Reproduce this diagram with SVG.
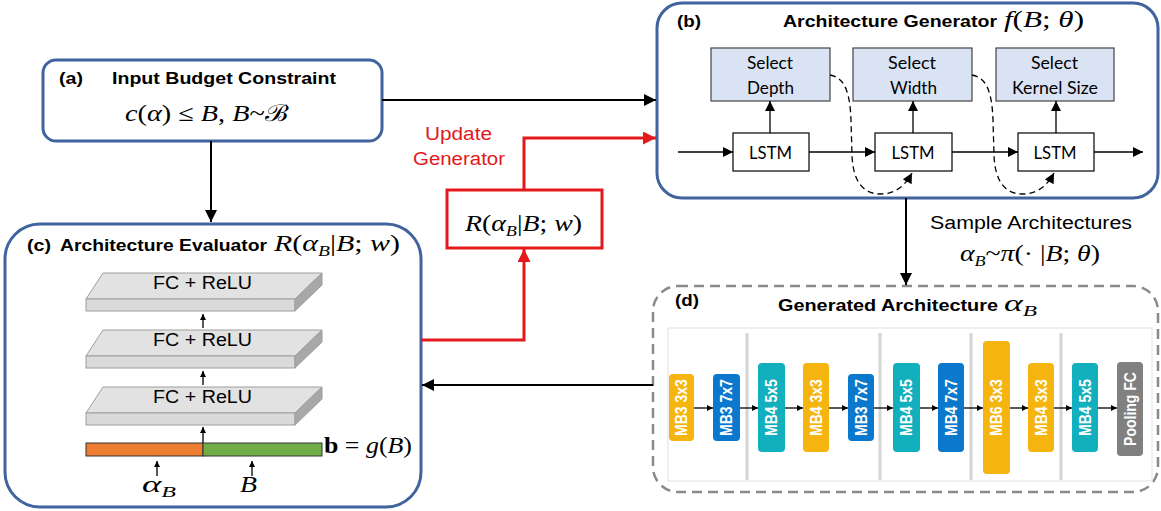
<svg xmlns="http://www.w3.org/2000/svg" width="1161" height="511" viewBox="0 0 1161 511">
<style>
.box{fill:#fff;stroke:#41639E;stroke-width:3}
.ttl{font-family:"Liberation Sans",Arial,sans-serif;font-weight:bold;font-size:17px;fill:#000}
.lbl{font-family:"Liberation Sans",Arial,sans-serif;font-size:18px;fill:#000}
.cal{font-family:Lato,"Open Sans",sans-serif;font-size:17px;fill:#000}
.math{font-family:"Liberation Serif","DejaVu Serif",serif;font-size:23px;fill:#000}
.i{font-style:italic}
.sub{font-size:15px;font-style:italic}
.sel{fill:#DAE3F3;stroke:#444;stroke-width:1.2}
.lstm{fill:#fff;stroke:#000;stroke-width:1.2}
.blk{font-family:"Liberation Sans",Arial,sans-serif;font-weight:bold;font-size:14px;fill:#fff}
.sep{stroke:#D4D4D4;stroke-width:3}
.top{fill:#E2E2E2;stroke:#9E9E9E;stroke-width:1}
.front{fill:#DADADA;stroke:#9E9E9E;stroke-width:1}
.side{fill:#A8A8A8;stroke:#9E9E9E;stroke-width:1}
.c-yel{fill:#F6B40E}.c-blu{fill:#0A78CC}.c-tea{fill:#12AFBE}.c-gry{fill:#808080}
.ln{stroke:#000;stroke-width:2;fill:none}
.thin{stroke:#000;stroke-width:1.3;fill:none}
.red{stroke:#E3191C;stroke-width:3;fill:none}
</style>
<defs>
<marker id="ahL" viewBox="0 0 10 10" refX="10" refY="5" markerWidth="13" markerHeight="12" markerUnits="userSpaceOnUse" orient="auto"><path d="M0,0 L10,5 L0,10 z" fill="#000"/></marker>
<marker id="ahR" viewBox="0 0 10 10" refX="10" refY="5" markerWidth="14" markerHeight="13" markerUnits="userSpaceOnUse" orient="auto"><path d="M0,0 L10,5 L0,10 z" fill="#E3191C"/></marker>
<marker id="ahM" viewBox="0 0 10 10" refX="10" refY="5" markerWidth="11" markerHeight="10" markerUnits="userSpaceOnUse" orient="auto"><path d="M0,0 L10,5 L0,10 z" fill="#000"/></marker>
<marker id="ahS" viewBox="0 0 10 10" refX="10" refY="5" markerWidth="6" markerHeight="6" markerUnits="userSpaceOnUse" orient="auto"><path d="M0,0 L10,5 L0,10 z" fill="#000"/></marker>
<g id="slab">
<polygon class="top" points="103,273 322,273 295,299 86,299"/>
<rect class="front" x="86" y="299" width="209" height="12"/>
<polygon class="side" points="295,299 322,273 322,285 295,311"/>
<text class="lbl" x="202.5" y="289" text-anchor="middle" font-size="17" textLength="99" lengthAdjust="spacingAndGlyphs">FC + ReLU</text>
</g>
</defs>

<!-- (a) -->
<g id="nodeA">
<rect class="box" x="43" y="60" width="339" height="81" rx="13"/>
<text class="ttl" x="59" y="84" textLength="24" lengthAdjust="spacingAndGlyphs">(a)</text>
<text class="ttl" x="112" y="84" textLength="224" lengthAdjust="spacingAndGlyphs">Input Budget Constraint</text>
<text class="math" x="125" y="121" textLength="163" lengthAdjust="spacingAndGlyphs"><tspan class="i">c</tspan>(<tspan class="i">α</tspan>) ≤ <tspan class="i">B</tspan>, <tspan class="i">B</tspan>~ℬ</text>
</g>

<!-- (b) -->
<g id="nodeB">
<rect class="box" x="657" y="3" width="501" height="195" rx="25"/>
<text class="ttl" x="677" y="27" textLength="24" lengthAdjust="spacingAndGlyphs">(b)</text>
<text class="ttl" x="783" y="27" textLength="214" lengthAdjust="spacingAndGlyphs">Architecture Generator</text>
<text class="math" x="1004" y="27" textLength="80" lengthAdjust="spacingAndGlyphs"><tspan class="i">f</tspan>(<tspan class="i">B</tspan>; <tspan class="i">θ</tspan>)</text>
<g id="selDepth"><rect class="sel" x="711" y="48" width="119" height="53"/>
<text class="cal" x="770" y="69" text-anchor="middle" textLength="46" lengthAdjust="spacingAndGlyphs">Select</text>
<text class="cal" x="770.5" y="94" text-anchor="middle" textLength="47" lengthAdjust="spacingAndGlyphs">Depth</text></g>
<g id="selWidth"><rect class="sel" x="853" y="48" width="119" height="53"/>
<text class="cal" x="912" y="69" text-anchor="middle" textLength="48" lengthAdjust="spacingAndGlyphs">Select</text>
<text class="cal" x="913.5" y="94" text-anchor="middle" textLength="47" lengthAdjust="spacingAndGlyphs">Width</text></g>
<g id="selKernel"><rect class="sel" x="996" y="48" width="118" height="53"/>
<text class="cal" x="1054.5" y="69" text-anchor="middle" textLength="47" lengthAdjust="spacingAndGlyphs">Select</text>
<text class="cal" x="1055" y="94" text-anchor="middle" textLength="86" lengthAdjust="spacingAndGlyphs">Kernel Size</text></g>
<g id="lstm1"><rect class="lstm" x="733" y="133" width="76" height="38"/>
<text class="cal" x="770.5" y="159" text-anchor="middle" textLength="43" lengthAdjust="spacingAndGlyphs">LSTM</text></g>
<g id="lstm2"><rect class="lstm" x="875" y="133" width="77" height="38"/>
<text class="cal" x="913" y="159" text-anchor="middle" textLength="43" lengthAdjust="spacingAndGlyphs">LSTM</text></g>
<g id="lstm3"><rect class="lstm" x="1018" y="133" width="76" height="38"/>
<text class="cal" x="1055" y="159" text-anchor="middle" textLength="43" lengthAdjust="spacingAndGlyphs">LSTM</text></g>
</g>

<!-- (c) -->
<g id="nodeC">
<rect class="box" x="5" y="224" width="416" height="283" rx="35"/>
<text class="ttl" x="27" y="251" textLength="24" lengthAdjust="spacingAndGlyphs">(c)</text>
<text class="ttl" x="60" y="251" textLength="207" lengthAdjust="spacingAndGlyphs">Architecture Evaluator</text>
<text class="math" x="274" y="251" textLength="126" lengthAdjust="spacingAndGlyphs"><tspan class="i">R</tspan>(<tspan class="i">α</tspan><tspan class="sub" dy="5">B</tspan><tspan dy="-5">|</tspan><tspan class="i">B</tspan>; <tspan class="i">w</tspan>)</text>
<use href="#slab"/>
<use href="#slab" transform="translate(0,57)"/>
<use href="#slab" transform="translate(0,114)"/>
<rect x="86" y="443" width="117" height="13" fill="#ED7D31" stroke="#333" stroke-width="1"/>
<rect x="203" y="443" width="119" height="13" fill="#70AD47" stroke="#333" stroke-width="1"/>
<text class="math" x="324" y="453" font-size="21" textLength="88" lengthAdjust="spacingAndGlyphs"><tspan font-weight="bold">b</tspan> = <tspan class="i">g</tspan>(<tspan class="i">B</tspan>)</text>
<text class="math" x="142" y="492" font-size="28" textLength="34" lengthAdjust="spacingAndGlyphs"><tspan class="i">α</tspan><tspan class="sub" font-size="17" dy="5">B</tspan></text>
<text class="math i" x="240" y="492" font-size="24" textLength="17" lengthAdjust="spacingAndGlyphs">B</text>
</g>

<!-- red reward box -->
<g id="nodeR">
<rect x="447" y="190" width="155" height="58" fill="#fff" stroke="#E3191C" stroke-width="3"/>
<text class="math" x="465" y="231" textLength="117" lengthAdjust="spacingAndGlyphs"><tspan class="i">R</tspan>(<tspan class="i">α</tspan><tspan class="sub" dy="5">B</tspan><tspan dy="-5">|</tspan><tspan class="i">B</tspan>; <tspan class="i">w</tspan>)</text>
</g>

<!-- (d) -->
<g id="nodeD">
<rect x="653" y="286" width="505" height="206" rx="25" fill="#fff" stroke="#8A8A8A" stroke-width="2.5" stroke-dasharray="10,6"/>
<text class="ttl" x="675" y="306" textLength="24" lengthAdjust="spacingAndGlyphs">(d)</text>
<text class="ttl" x="778" y="311" font-size="18" textLength="220" lengthAdjust="spacingAndGlyphs">Generated Architecture</text>
<text class="math" x="1004" y="311" font-size="28" textLength="33" lengthAdjust="spacingAndGlyphs"><tspan class="i">α</tspan><tspan class="sub" font-size="17" dy="5">B</tspan></text>
<rect x="668" y="328" width="484" height="153" fill="#fff" stroke="#E2E2E2" stroke-width="1"/>
<line class="sep" x1="747" y1="333" x2="747" y2="480"/>
<line class="sep" x1="880" y1="333" x2="880" y2="480"/>
<line class="sep" x1="971" y1="333" x2="971" y2="480"/>
<line class="sep" x1="1061" y1="333" x2="1061" y2="480"/>
<g id="b1"><rect class="c-yel" x="669" y="374" width="25" height="67" rx="4"/><text class="blk" transform="translate(687.3,407.5) rotate(-90) scale(1,1.15)" text-anchor="middle">MB3 3x3</text></g>
<g id="b2"><rect class="c-blu" x="713" y="374" width="27" height="67" rx="4"/><text class="blk" transform="translate(732.3,407.5) rotate(-90) scale(1,1.15)" text-anchor="middle">MB3 7x7</text></g>
<g id="b3"><rect class="c-tea" x="758" y="363" width="27" height="89" rx="4"/><text class="blk" transform="translate(777.3,407.5) rotate(-90) scale(1,1.15)" text-anchor="middle">MB4 5x5</text></g>
<g id="b4"><rect class="c-yel" x="803" y="363" width="26" height="89" rx="4"/><text class="blk" transform="translate(821.8,407.5) rotate(-90) scale(1,1.15)" text-anchor="middle">MB4 3x3</text></g>
<g id="b5"><rect class="c-blu" x="848" y="374" width="26" height="67" rx="4"/><text class="blk" transform="translate(866.8,407.5) rotate(-90) scale(1,1.15)" text-anchor="middle">MB3 7x7</text></g>
<g id="b6"><rect class="c-tea" x="893" y="363" width="27" height="89" rx="4"/><text class="blk" transform="translate(912.3,407.5) rotate(-90) scale(1,1.15)" text-anchor="middle">MB4 5x5</text></g>
<g id="b7"><rect class="c-blu" x="938" y="363" width="26" height="89" rx="4"/><text class="blk" transform="translate(956.8,407.5) rotate(-90) scale(1,1.15)" text-anchor="middle">MB4 7x7</text></g>
<g id="b8"><rect class="c-yel" x="983" y="341" width="27" height="133" rx="4"/><text class="blk" transform="translate(1002.3,407.5) rotate(-90) scale(1,1.15)" text-anchor="middle">MB6 3x3</text></g>
<g id="b9"><rect class="c-yel" x="1028" y="363" width="26" height="89" rx="4"/><text class="blk" transform="translate(1046.8,407.5) rotate(-90) scale(1,1.15)" text-anchor="middle">MB4 3x3</text></g>
<g id="b10"><rect class="c-tea" x="1072" y="363" width="26" height="89" rx="4"/><text class="blk" transform="translate(1090.8,407.5) rotate(-90) scale(1,1.15)" text-anchor="middle">MB4 5x5</text></g>
<g id="b11"><rect class="c-gry" x="1117" y="362" width="26" height="94" rx="4"/><text class="blk" transform="translate(1135.8,409) rotate(-90) scale(1,1.15)" text-anchor="middle" font-size="13">Pooling FC</text></g>
</g>

<!-- labels -->
<g id="labels">
<text class="lbl" x="425" y="140" style="fill:#E3191C" textLength="67" lengthAdjust="spacingAndGlyphs">Update</text>
<text class="lbl" x="413" y="165" style="fill:#E3191C" textLength="92" lengthAdjust="spacingAndGlyphs">Generator</text>
<text class="lbl" x="930" y="229" textLength="202" lengthAdjust="spacingAndGlyphs">Sample Architectures</text>
<text class="math" x="960" y="261" textLength="140" lengthAdjust="spacingAndGlyphs"><tspan class="i">α</tspan><tspan class="sub" dy="5">B</tspan><tspan dy="-5">~</tspan><tspan class="i">π</tspan>(· |<tspan class="i">B</tspan>; <tspan class="i">θ</tspan>)</text>
</g>

<!-- connectors -->
<g id="connectors">
<line class="ln" x1="382" y1="100" x2="656" y2="100" marker-end="url(#ahL)"/>
<line class="ln" x1="211" y1="141" x2="211" y2="222" marker-end="url(#ahL)"/>
<polyline class="red" points="524,190 524,138 656,138" marker-end="url(#ahR)"/>
<polyline class="red" points="421,340 524,340 524,249" marker-end="url(#ahR)"/>
<line class="ln" x1="653" y1="385" x2="422" y2="385" marker-end="url(#ahL)"/>
<line class="ln" x1="906" y1="198" x2="906" y2="285" marker-end="url(#ahL)"/>
<line class="thin" x1="678" y1="152" x2="733" y2="152" marker-end="url(#ahM)"/>
<line class="thin" x1="809" y1="152" x2="875" y2="152" marker-end="url(#ahM)"/>
<line class="thin" x1="952" y1="152" x2="1018" y2="152" marker-end="url(#ahM)"/>
<line class="thin" x1="1094" y1="152" x2="1143" y2="152" marker-end="url(#ahM)"/>
<line class="thin" x1="770" y1="133" x2="770" y2="101" marker-end="url(#ahM)"/>
<line class="thin" x1="913" y1="133" x2="913" y2="101" marker-end="url(#ahM)"/>
<line class="thin" x1="1056" y1="133" x2="1056" y2="101" marker-end="url(#ahM)"/>
<path class="thin" stroke-dasharray="6,4" d="M830,75 C846,78 850,95 851,120 L852,155 C853,185 866,194 880,194 C895,194 905,186 912,173" marker-end="url(#ahM)"/>
<path class="thin" stroke-dasharray="6,4" d="M972,75 C988,78 992,95 993,120 L994,155 C995,185 1008,194 1022,194 C1037,194 1047,186 1054,173" marker-end="url(#ahM)"/>
<line class="thin" x1="203" y1="328" x2="203" y2="314" marker-end="url(#ahS)"/>
<line class="thin" x1="203" y1="385" x2="203" y2="371" marker-end="url(#ahS)"/>
<line class="thin" x1="203" y1="443" x2="203" y2="427" marker-end="url(#ahS)"/>
<line class="thin" x1="157" y1="476" x2="157" y2="461" marker-end="url(#ahS)"/>
<line class="thin" x1="252" y1="476" x2="252" y2="461" marker-end="url(#ahS)"/>
<line class="thin" x1="694" y1="408" x2="713" y2="408" marker-end="url(#ahS)"/>
<line class="thin" x1="740" y1="408" x2="758" y2="408" marker-end="url(#ahS)"/>
<line class="thin" x1="785" y1="408" x2="803" y2="408" marker-end="url(#ahS)"/>
<line class="thin" x1="829" y1="408" x2="848" y2="408" marker-end="url(#ahS)"/>
<line class="thin" x1="874" y1="408" x2="893" y2="408" marker-end="url(#ahS)"/>
<line class="thin" x1="920" y1="408" x2="938" y2="408" marker-end="url(#ahS)"/>
<line class="thin" x1="964" y1="408" x2="983" y2="408" marker-end="url(#ahS)"/>
<line class="thin" x1="1010" y1="408" x2="1028" y2="408" marker-end="url(#ahS)"/>
<line class="thin" x1="1054" y1="408" x2="1072" y2="408" marker-end="url(#ahS)"/>
<line class="thin" x1="1098" y1="408" x2="1117" y2="408" marker-end="url(#ahS)"/>
</g>
</svg>
